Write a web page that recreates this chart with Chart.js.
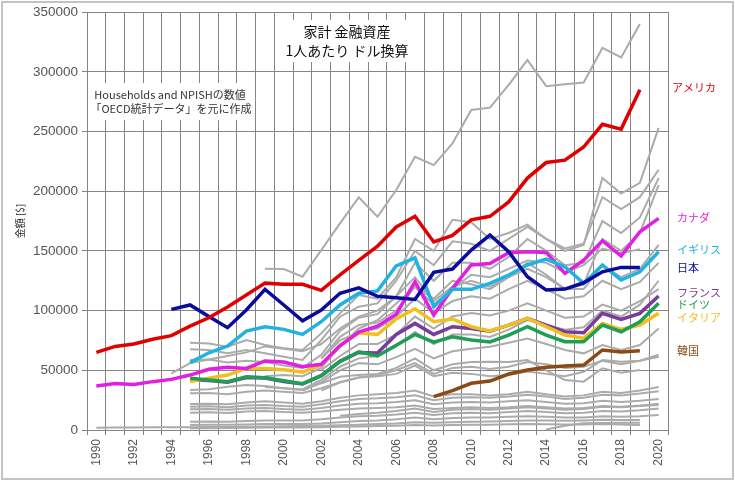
<!DOCTYPE html>
<html lang="ja">
<head>
  <meta charset="UTF-8">
  <title>家計 金融資産 1人あたり ドル換算</title>
  <script src="https://cdn.jsdelivr.net/npm/chart.js"></script>
  <style>
    * { box-sizing: border-box; margin: 0; padding: 0; }
    body { background: #fff; width: 735px; height: 481px; overflow: hidden; }
    #wrap { position: relative; width: 735px; height: 481px; }
  </style>
</head>
<body>
  <div id="wrap"><canvas id="chart" width="735" height="481"></canvas></div>

  <script>
    // 年（カテゴリ）
    const years = ['1990','1991','1992','1993','1994','1995','1996','1997','1998','1999',
                   '2000','2001','2002','2003','2004','2005','2006','2007','2008','2009',
                   '2010','2011','2012','2013','2014','2015','2016','2017','2018','2019','2020'];
    const yTicks = [0, 50000, 100000, 150000, 200000, 250000, 300000, 350000];

    // 主要国
    const usa = [65000,70000,72000,76000,79000,87000,94000,103000,113000,123000,
                 122000,122000,117000,130000,142000,154000,170000,179000,157500,163000,
                 176000,179000,191000,211000,224000,226000,237000,256000,252000,285000,null];
    const japan = [null,null,null,null,101000,104700,95000,85700,100500,117800,
                   104700,91500,100500,114500,119000,112000,110800,109400,132000,134800,
                   150700,163300,149300,128400,117200,118000,123300,132500,136200,136200,null];
    const canada = [36800,39000,38200,40500,42400,46000,50800,52500,51600,57800,
                    57000,53000,55000,70500,82000,87000,97000,124200,96300,118600,
                    138200,139500,148500,149300,148700,131200,142300,158500,145700,166000,177200];
    const uk = [null,null,null,null,null,56400,64700,70300,82900,86500,
                84300,80100,90700,104700,114500,116500,137500,144200,103300,117800,
                117800,122800,129800,138200,143200,136700,122800,138200,125600,132500,149300];
    const france = [null,null,null,null,null,42000,41500,40000,44000,43500,
                    40500,38500,45500,57500,65000,64500,80000,89300,80000,86500,
                    85000,82800,87900,93500,87900,82300,81500,97700,92700,97700,112200];
    const germany = [null,null,null,null,null,43300,41900,40500,44600,43800,
                     41200,38800,45500,57500,65500,62000,71000,80000,73500,78100,
                     75400,73800,79500,86500,79500,73900,73900,87900,82300,90700,106100];
    const italy = [null,null,null,null,null,40500,43300,46000,51600,51500,
                   50500,48500,54500,71000,81200,80000,93000,101500,90700,93000,
                   86500,83000,87900,93500,86500,79500,76800,89300,84300,87900,97700];
    const korea = [null,null,null,null,null,null,null,null,null,null,
                   null,null,null,null,null,null,null,null,27900,32900,
                   39100,41000,46900,50200,52500,53600,54400,67000,65300,66400,null];

    // その他のOECD諸国（グレー）
    const gray01 = [null,null,null,null,null,null,null,null,null,135000,134800,128400,150700,173000,194800,178600,201000,228800,221900,240000,268000,270000,289000,310000,288000,289500,291000,320000,312000,340000,null];
    const gray02 = [null,null,null,null,null,73000,72500,69700,75300,71200,68400,67000,80900,97700,113000,110000,128000,160000,150000,176000,174000,160000,165000,172000,160000,150000,155000,211000,198000,207000,253000];
    const gray03 = [null,null,null,null,null,67600,67000,64200,67000,64200,61400,58600,75300,94900,103300,106000,125000,150000,138000,158000,156000,150000,160000,170000,160000,152000,156000,195000,185000,195000,218000];
    const gray04 = [null,null,null,null,null,58600,59000,56500,58000,57000,54000,52000,63000,83000,94000,97000,112000,140000,125000,140000,140000,135000,145000,160000,150000,138000,140000,175000,165000,178000,211000];
    const gray05 = [null,null,null,null,null,null,null,null,null,null,null,null,60000,78000,88000,90000,100000,120000,110000,125000,122000,118000,128000,140000,130000,118000,122000,160000,150000,165000,205000];
    const gray06 = [null,null,null,null,47500,56000,59000,62000,65000,70000,68000,66000,72000,85000,95000,100000,112000,128000,108000,120000,125000,120000,128000,135000,128000,118000,118000,138000,128000,135000,155000];
    const gray07 = [null,null,null,null,null,null,null,null,null,45000,46000,45000,52000,70000,85000,92000,106000,120000,105000,118000,130000,128000,135000,142000,140000,132000,138000,152000,148000,151500,null];
    const gray08 = [null,null,null,null,null,null,null,null,null,36000,35000,34000,42000,53000,60000,62000,70000,82000,72000,80000,80000,78000,84000,92000,88000,84000,86000,100000,95000,105000,125000];
    const gray09 = [null,null,null,null,null,null,null,null,null,null,null,33000,40000,50000,56000,55000,61000,68000,60000,66000,68000,69800,73000,76700,72000,67000,64200,71200,67000,71200,85100];
    const gray10 = [null,null,null,null,null,33500,34100,36300,37700,36900,34900,33500,39100,44600,46000,47000,52000,60000,50000,55000,57000,57200,57000,58600,50000,41900,40500,51700,48000,50200,null];
    const gray11 = [null,null,null,null,null,30700,31000,30000,32000,33000,32000,31000,35000,40000,44000,45000,47000,54000,45000,48000,47000,45000,46000,49000,47000,45000,48800,58600,57200,58000,61400];
    const gray12 = [null,null,null,null,null,null,null,null,null,null,null,null,33000,40000,44000,46000,50000,56000,47000,52000,53000,51000,53000,57000,55000,52000,53000,58000,55000,58000,63000];
    const gray13 = [null,null,null,null,null,21800,22000,21500,23000,24000,23000,22000,24000,27000,29000,30000,31000,33000,28000,30000,30000,29000,30000,32000,30000,28000,29000,32000,31000,33000,36000];
    const gray14 = [null,null,null,null,null,19500,19800,19000,20500,21000,20000,19500,21500,24000,26000,26500,27500,29000,25000,27000,27500,27000,28000,29500,28000,26000,27000,29500,29000,30500,32500];
    const gray15 = [null,null,null,null,null,17300,17500,17000,18000,18500,17500,17000,18500,20500,22000,22500,23500,25000,21500,23000,23500,23000,24000,25000,23500,22000,22500,24500,23500,24500,26000];
    const gray16 = [null,null,null,null,null,14500,14800,14200,15500,16000,15000,14500,15500,17000,18000,18500,19000,20500,17500,18500,19000,18500,19000,20000,19000,18000,18500,20000,19500,20500,22000];
    const gray17 = [null,null,null,null,null,7000,7200,7000,7500,8000,8000,8000,9000,10500,11500,12000,13000,14500,12500,14000,14500,14000,15000,16000,15000,14000,14500,16000,15500,16500,18000];
    const gray18 = [null,null,null,null,null,4200,4400,4300,4600,5000,5000,5000,5500,6500,7500,8000,9000,10500,9000,10000,10500,10500,11000,11500,11000,10500,10500,11500,11000,11500,12500];
    const gray19 = [1900,2000,2100,2200,2300,2400,2500,2600,2800,3000,3200,3300,3600,4000,4500,5000,5500,6500,6000,6500,7000,7200,7500,8000,8000,7800,8000,8500,8400,8400,null];
    const gray20 = [null,null,null,null,null,1400,1500,1600,1800,2000,2000,2100,2300,2700,3000,3300,3600,4200,3800,4200,4500,4500,4800,5000,4800,4600,4700,5000,4600,4200,null];
    const gray21 = [null,null,null,null,null,null,null,null,null,null,null,null,null,12000,13500,14500,16000,18000,15000,17000,17500,17000,18000,19000,18000,17000,17500,19500,19000,20000,21000];
    const gray22 = [null,null,null,null,null,null,null,null,null,null,null,null,null,null,null,null,null,null,null,null,null,null,null,null,500,3500,5600,5800,6000,6000,null];
    const gray23 = [null,null,null,null,null,null,null,null,null,null,null,null,60000,75000,82000,85000,95000,110000,98000,108000,112000,110000,118000,125000,118000,110000,112000,125000,118000,124000,140000];
    const gray24 = [null,null,null,null,null,null,null,null,null,null,null,null,50000,62000,72000,72000,80000,95000,85000,95000,98000,96000,100000,106000,100000,94000,95000,105000,100000,108000,118000];

    const grayList = [gray01, gray02, gray03, gray04, gray05, gray06, gray07, gray08, gray09, gray10, gray11, gray12,
                      gray13, gray14, gray15, gray16, gray17, gray18, gray19, gray20, gray21, gray22, gray23, gray24];

    // 右側の国名ラベル（表示位置の値）
    const countryNames  = ['アメリカ', 'カナダ', 'イギリス', '日本', 'フランス', 'ドイツ', 'イタリア', '韓国'];
    const countryColors = ['#e00000', '#e21fe0', '#20b2e0', '#0a0a9c', '#7a3c9c', '#1f9e55', '#f0c020', '#8b4a14'];
    const countryLabelY = [287000, 178000, 150700, 135600, 114700, 104700, 93800, 66100];

    const JP = '"Noto Sans CJK JP", sans-serif';
    Chart.defaults.font.family = '"Liberation Sans", "Noto Sans CJK JP", sans-serif';

    // 主要国（先頭ほど上に描かれる）
    const mainSeries = [usa, japan, uk, canada, germany, italy, france, korea];
    const mainColorIdx = [0, 3, 2, 1, 5, 6, 4, 7];

    const datasets = [];
    mainSeries.forEach((s, i) => {
      datasets.push({
        data: s,
        borderColor: countryColors[mainColorIdx[i]],
        borderWidth: 3.5,
        pointRadius: 0,
        tension: 0,
        spanGaps: false
      });
    });
    grayList.forEach(s => {
      datasets.push({
        data: s,
        borderColor: '#ababab',
        borderWidth: 2,
        pointRadius: 0,
        tension: 0
      });
    });

    // タイトル・注記・ラベルなど
    const decor = {
      id: 'decor',
      beforeDraw(chart) {
        const c = chart.ctx;
        c.save();
        c.fillStyle = '#fff';
        c.fillRect(0, 0, chart.width, chart.height);
        c.strokeStyle = '#c4c4c4';
        c.lineWidth = 2;
        c.strokeRect(2, 2, chart.width - 4, chart.height - 4);
        c.restore();
      },
      beforeDatasetsDraw(chart) {
        const c = chart.ctx;
        c.save();
        // タイトルの白い箱
        c.fillStyle = '#fff';
        c.fillRect(290, 20, 116, 42);
        c.fillStyle = '#111';
        c.font = '14px ' + JP;
        c.textAlign = 'center';
        c.textBaseline = 'middle';
        c.fillText('家計 金融資産', 347, 32);
        c.fillText('1人あたり ドル換算', 347, 51);
        // 注記
        c.fillStyle = '#fff';
        c.fillRect(88, 83, 166, 37);
        c.fillStyle = '#333';
        c.font = '11px ' + JP;
        c.fillText('Households and NPISHの数値', 170, 95);
        c.fillText('「OECD統計データ」を元に作成', 171, 109);
        // 縦軸タイトル
        c.translate(20, 221);
        c.rotate(-Math.PI / 2);
        c.font = '10px ' + JP;
        c.fillStyle = '#222';
        c.fillText('金額 [$]', 0, 0);
        c.restore();
      },
      afterDraw(chart) {
        const c = chart.ctx;
        const y = chart.scales.y;
        c.save();
        c.font = '11px ' + JP;
        c.textAlign = 'left';
        c.textBaseline = 'middle';
        countryNames.forEach((name, i) => {
          c.fillStyle = countryColors[i];
          c.fillText(name, i === 0 ? 672 : 677, y.getPixelForValue(countryLabelY[i]));
        });
        c.restore();
      }
    };

    new Chart(document.getElementById('chart'), {
      type: 'line',
      data: { labels: years, datasets },
      options: {
        responsive: false,
        animation: false,
        events: [],
        layout: { padding: { top: 12, right: 67, left: 0, bottom: 0 } },
        plugins: { legend: { display: false }, tooltip: { enabled: false } },
        scales: {
          x: {
            type: 'category',
            offset: true,
            grid: { offset: true, color: '#858585', lineWidth: 1, tickLength: 5, drawTicks: true },
            border: { color: '#858585' },
            ticks: {
              autoSkip: false,
              minRotation: 90,
              maxRotation: 90,
              padding: 4,
              color: '#555',
              font: { size: 12 },
              callback(val, i) { return i % 2 === 0 ? years[i] : ''; }
            },
            afterFit(s) { s.height = 51; }
          },
          y: {
            min: yTicks[0],
            max: yTicks[yTicks.length - 1],
            grid: { color: '#858585', lineWidth: 1, tickLength: 5 },
            border: { color: '#858585' },
            ticks: {
              stepSize: 50000,
              padding: 4,
              color: '#555',
              font: { size: 13.5 },
              callback(v) { return String(v); }
            },
            afterFit(s) { s.width = 87; }
          }
        }
      },
      plugins: [decor]
    });
  </script>
</body>
</html>
